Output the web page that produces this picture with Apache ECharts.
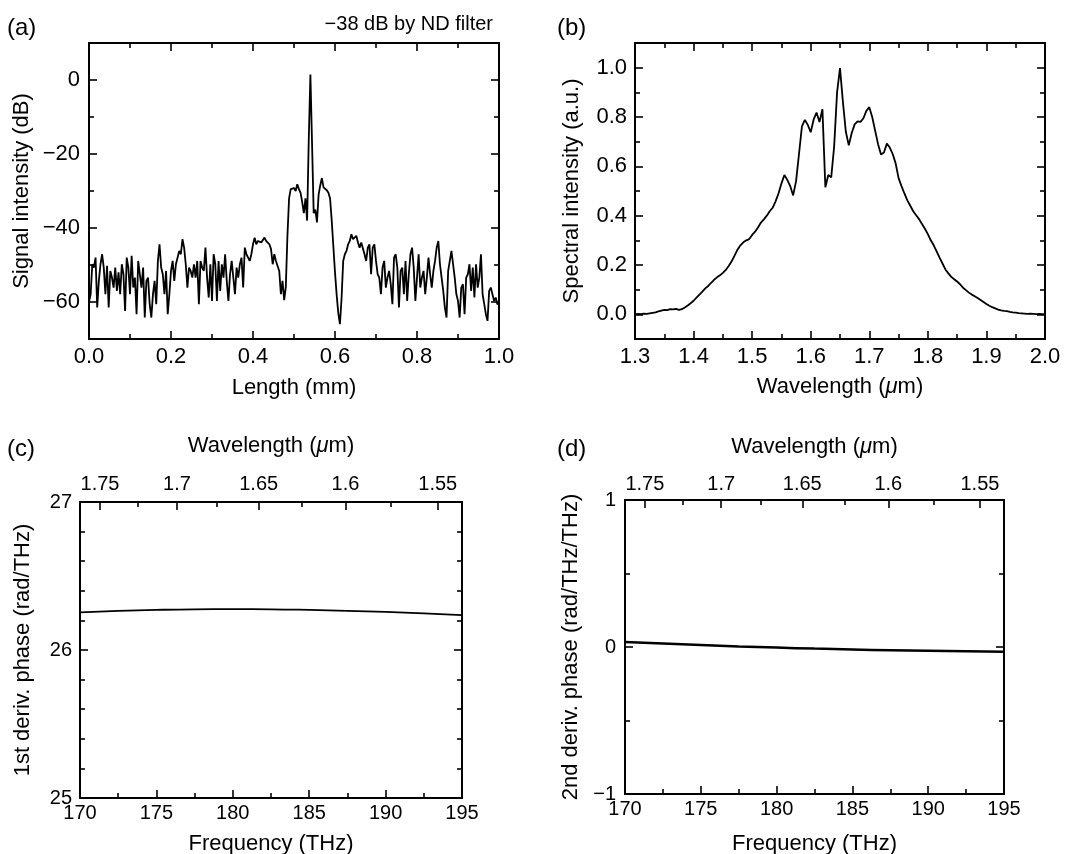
<!DOCTYPE html>
<html>
<head>
<meta charset="utf-8">
<title>Signal, spectrum and phase derivatives</title>
<script src="https://cdn.jsdelivr.net/npm/echarts@6/dist/echarts.min.js"></script>
<style>
  html, body { margin: 0; padding: 0; background: #fff; }
  #chart { width: 1078px; height: 854px; }
</style>
</head>
<body>
<div id="chart"></div>
<script>
// (a) signal intensity vs length, one sample every 0.004 mm starting at 0
const lengthStep = 0.004;
const signalDb = [
  -60.0, -57.9, -49.8, -50.7, -48.0, -61.5, -54.3, -49.8, -47.1, -50.7,
  -57.9, -50.2, -61.5, -51.6, -53.4, -56.1, -50.7, -57.0, -52.0, -57.9,
  -49.8, -52.5, -62.4, -48.0, -50.7, -57.9, -47.5, -56.1, -53.4, -63.3,
  -48.9, -52.5, -56.1, -50.7, -64.2, -54.3, -53.4, -60.6, -64.2, -57.9,
  -54.3, -60.6, -48.9, -44.4, -50.7, -52.5, -57.9, -51.6, -63.3, -57.9,
  -51.6, -48.9, -54.3, -49.8, -48.0, -46.2, -47.1, -43.0, -45.3, -49.8,
  -56.1, -50.7, -51.6, -53.4, -49.8, -53.4, -48.9, -60.6, -48.9, -50.7,
  -51.6, -45.3, -53.4, -58.8, -49.8, -59.7, -47.1, -49.8, -59.7, -48.9,
  -57.0, -49.8, -53.4, -47.1, -54.3, -59.7, -52.5, -48.9, -53.4, -57.9,
  -50.7, -53.4, -49.8, -48.0, -56.1, -45.3, -47.1, -48.0, -48.9, -47.1,
  -44.4, -42.6, -44.4, -43.5, -43.0, -43.9, -43.5, -42.6, -43.5, -43.0,
  -44.4, -45.7, -49.8, -47.1, -48.9, -48.4, -51.6, -57.9, -54.3, -59.5,
  -56.0, -42.0, -32.0, -29.5, -29.8, -29.2, -30.0, -28.2, -29.5, -30.5,
  -33.0, -36.0, -32.0, -38.0, -16.0, 1.5, -17.0, -36.0, -35.0, -38.5,
  -31.0, -28.5, -26.5, -29.0, -29.5, -29.8, -30.5, -32.0, -38.0, -45.0,
  -52.0, -58.0, -63.0, -66.0, -59.0, -48.9, -47.1, -46.2, -44.4, -43.5,
  -41.7, -43.0, -43.5, -42.1, -43.9, -45.3, -43.9, -43.5, -47.1, -48.9,
  -45.3, -44.4, -52.5, -45.3, -44.4, -48.9, -52.5, -53.4, -57.9, -50.7,
  -48.9, -56.1, -53.4, -51.6, -55.2, -60.6, -48.0, -47.1, -50.7, -61.5,
  -51.6, -50.7, -57.9, -48.9, -59.7, -52.5, -47.1, -45.3, -50.7, -59.7,
  -53.4, -47.1, -56.1, -53.4, -51.6, -57.9, -53.4, -48.0, -52.5, -56.1,
  -51.6, -48.9, -45.3, -43.5, -49.8, -53.4, -57.0, -61.5, -64.2, -51.6,
  -48.9, -46.2, -49.8, -53.4, -57.9, -59.7, -64.2, -56.1, -55.2, -63.3,
  -53.4, -52.5, -49.8, -57.0, -50.7, -58.8, -49.8, -56.1, -53.4, -47.1,
  -57.9, -60.6, -63.3, -65.1, -57.0, -56.1, -57.9, -59.7, -58.8, -60.6,
  -60.2
];

// (b) spectral intensity, one sample every 0.005 um starting at 1.3 um
const waveStart = 1.3;
const waveStep = 0.005;
const spectrum = [
  0.000, 0.002, 0.001, 0.003, 0.002, 0.004, 0.006, 0.008, 0.012, 0.015,
  0.018, 0.017, 0.021, 0.020, 0.022, 0.018, 0.021, 0.028, 0.036, 0.045,
  0.055, 0.068, 0.080, 0.092, 0.105, 0.115, 0.128, 0.140, 0.150, 0.158,
  0.168, 0.180, 0.196, 0.215, 0.238, 0.262, 0.280, 0.292, 0.300, 0.305,
  0.322, 0.335, 0.352, 0.372, 0.385, 0.400, 0.418, 0.432, 0.458, 0.490,
  0.530, 0.565, 0.545, 0.520, 0.482, 0.540, 0.650, 0.762, 0.788, 0.768,
  0.738, 0.790, 0.818, 0.780, 0.832, 0.515, 0.565, 0.555, 0.680, 0.900,
  0.998, 0.860, 0.740, 0.685, 0.735, 0.770, 0.782, 0.780, 0.795, 0.825,
  0.840, 0.800, 0.745, 0.690, 0.648, 0.656, 0.692, 0.676, 0.650, 0.612,
  0.552, 0.520, 0.490, 0.462, 0.440, 0.418, 0.402, 0.386, 0.366, 0.347,
  0.325, 0.300, 0.280, 0.255, 0.230, 0.206, 0.182, 0.166, 0.152, 0.142,
  0.133, 0.122, 0.108, 0.098, 0.088, 0.080, 0.073, 0.066, 0.058, 0.050,
  0.042, 0.035, 0.029, 0.024, 0.019, 0.016, 0.014, 0.013, 0.010, 0.008,
  0.007, 0.005, 0.004, 0.003, 0.002, 0.003, 0.002, 0.001, 0.002, 0.001,
  0.001
];

// (c), (d) phase derivatives vs frequency
const freqTHz = [170, 172.5, 175, 177.5, 180, 182.5, 185, 187.5, 190, 192.5, 195];
const phase1 = [26.254, 26.264, 26.271, 26.275, 26.276, 26.275, 26.271, 26.265, 26.257, 26.247, 26.236];
const phase2 = [0.034, 0.024, 0.014, 0.004, -0.004, -0.011, -0.017, -0.022, -0.026, -0.029, -0.032];

// tick values
const lengthTicks = [0, 0.2, 0.4, 0.6, 0.8, 1.0];
const lengthMinor = [0.1, 0.3, 0.5, 0.7, 0.9];
const dbTicks = [-60, -40, -20, 0];
const dbMinor = [-50, -30, -10];
const waveTicks = [1.3, 1.4, 1.5, 1.6, 1.7, 1.8, 1.9, 2.0];
const waveMinor = [1.35, 1.45, 1.55, 1.65, 1.75, 1.85, 1.95];
const intensityTicks = [0, 0.2, 0.4, 0.6, 0.8, 1.0];
const intensityMinor = [0.1, 0.3, 0.5, 0.7, 0.9];
const freqTicks = [170, 175, 180, 185, 190, 195];
const freqMinor = [172.5, 177.5, 182.5, 187.5, 192.5];
const phase1Ticks = [25, 26, 27];
const phase1Minor = [25.2, 25.4, 25.6, 25.8, 26.2, 26.4, 26.6, 26.8];
const phase2Ticks = [-1, 0, 1];
const phase2Minor = [-0.5, 0.5];
const topWaveTicks = [1.75, 1.7, 1.65, 1.6, 1.55];
const topWaveMinor = [1.725, 1.675, 1.625, 1.575];

const C_UM_THZ = 299.792458; // wavelength [um] = c / frequency [THz]
const INK = '#000';
const FONT = "'Liberation Sans', Arial, sans-serif";

const signed = v => (v < 0 ? '\u2212' + Math.abs(v) : String(v));
const oneDec = v => v.toFixed(1);

let grids = [], xAxes = [], yAxes = [], series = [];

// one side of the frame: line (optional) and inward ticks at given values
function edge(gridIndex, position, range, ticks, len, line) {
  return {
    type: 'value', gridIndex, position, min: range[0], max: range[1],
    axisLine: { show: line, onZero: false, lineStyle: { color: INK, width: 2 } },
    axisTick: { show: true, inside: true, length: len, customValues: ticks, lineStyle: { color: INK, width: 1.6 } },
    axisLabel: { show: false },
    splitLine: { show: false }
  };
}

function label(axis, values, formatter, fontSize, margin) {
  axis.axisLabel = {
    show: true, customValues: values, formatter, margin, fontSize,
    fontFamily: FONT, color: INK, showMinLabel: true, showMaxLabel: true
  };
}

function title(axis, name, gap) {
  axis.name = name;
  axis.nameLocation = 'middle';
  axis.nameGap = gap;
  axis.nameTextStyle = {
    color: INK, fontSize: 22, fontFamily: FONT,
    rich: { i: { fontStyle: 'italic', fontSize: 22, fontFamily: FONT, color: INK } }
  };
}

function addPanel(p) {
  const g = grids.length;
  grids.push(Object.assign({ outerBoundsMode: 'none' }, p.box));

  const xMain = edge(g, 'bottom', p.x, p.xTicks, 8, true);
  label(xMain, p.xTicks, p.xFmt, p.font, p.xMargin);
  title(xMain, p.xName, p.xGap);
  const xi = xAxes.push(xMain) - 1;
  xAxes.push(edge(g, 'bottom', p.x, p.xMinor, 5, false));

  if (p.waveTop) {
    const major = topWaveTicks.map(l => C_UM_THZ / l);
    const top = edge(g, 'top', p.x, major, 8, true);
    label(top, major, v => String(+(C_UM_THZ / v).toFixed(3)), p.font, p.waveMargin);
    title(top, 'Wavelength ({i|\u03bc}m)', p.waveGap);
    xAxes.push(top);
    xAxes.push(edge(g, 'top', p.x, topWaveMinor.map(l => C_UM_THZ / l), 5, false));
  } else {
    xAxes.push(edge(g, 'top', p.x, p.xTicks, 8, true));
    xAxes.push(edge(g, 'top', p.x, p.xMinor, 5, false));
  }

  const yMain = edge(g, 'left', p.y, p.yTicks, 8, true);
  label(yMain, p.yTicks, p.yFmt, p.font, p.yMargin);
  title(yMain, p.yName, p.yGap);
  const yi = yAxes.push(yMain) - 1;
  yAxes.push(edge(g, 'left', p.y, p.yMinor, 5, false));
  yAxes.push(edge(g, 'right', p.y, p.yTicks, 8, true));
  yAxes.push(edge(g, 'right', p.y, p.yMinor, 5, false));

  series.push({
    type: 'line', xAxisIndex: xi, yAxisIndex: yi, data: p.data,
    showSymbol: false, smooth: !!p.smooth, silent: true,
    lineStyle: { color: INK, width: p.lineWidth }
  });
}

addPanel({
  box: { left: 89, top: 43, width: 410, height: 296 },
  x: [0, 1], xTicks: lengthTicks, xMinor: lengthMinor, xFmt: oneDec,
  y: [-70, 10], yTicks: dbTicks, yMinor: dbMinor, yFmt: signed,
  font: 22, xMargin: 7, yMargin: 9,
  xName: 'Length (mm)', xGap: 38, yName: 'Signal intensity (dB)', yGap: 56,
  data: signalDb.map((v, i) => [+(i * lengthStep).toFixed(3), v]), lineWidth: 1.8
});

addPanel({
  box: { left: 635, top: 43, width: 410, height: 296 },
  x: [1.3, 2.0], xTicks: waveTicks, xMinor: waveMinor, xFmt: oneDec,
  y: [-0.1, 1.1], yTicks: intensityTicks, yMinor: intensityMinor, yFmt: oneDec,
  font: 22, xMargin: 7, yMargin: 8,
  xName: 'Wavelength ({i|\u03bc}m)', xGap: 37, yName: 'Spectral intensity (a.u.)', yGap: 52,
  data: spectrum.map((v, i) => [+(waveStart + i * waveStep).toFixed(3), v]), lineWidth: 1.8
});

addPanel({
  box: { left: 80, top: 502, width: 382, height: 296 },
  x: [170, 195], xTicks: freqTicks, xMinor: freqMinor, xFmt: String,
  y: [25, 27], yTicks: phase1Ticks, yMinor: phase1Minor, yFmt: String,
  font: 20, xMargin: 5, yMargin: 8, waveTop: true, waveMargin: 8, waveGap: 45,
  xName: 'Frequency (THz)', xGap: 35, yName: '1st deriv. phase (rad/THz)', yGap: 46,
  data: freqTHz.map((f, i) => [f, phase1[i]]), smooth: true, lineWidth: 1.8
});

addPanel({
  box: { left: 625, top: 500, width: 379, height: 294 },
  x: [170, 195], xTicks: freqTicks, xMinor: freqMinor, xFmt: String,
  y: [-1, 1], yTicks: phase2Ticks, yMinor: phase2Minor, yFmt: signed,
  font: 20, xMargin: 5, yMargin: 9, waveTop: true, waveMargin: 6, waveGap: 42,
  xName: 'Frequency (THz)', xGap: 39, yName: '2nd deriv. phase (rad/THz/THz)', yGap: 43,
  data: freqTHz.map((f, i) => [f, phase2[i]]), smooth: true, lineWidth: 2.5
});

function tag(text, pos, size) {
  return Object.assign({ type: 'text', silent: true,
    style: { text, fontSize: size, fontFamily: FONT, fill: INK } }, pos);
}

const chart = echarts.init(document.getElementById('chart'));
chart.setOption({
  animation: false,
  backgroundColor: '#fff',
  grid: grids,
  xAxis: xAxes,
  yAxis: yAxes,
  series: series,
  graphic: [
    tag('(a)', { left: 7, top: 16 }, 24),
    tag('(b)', { left: 557, top: 16 }, 24),
    tag('(c)', { left: 7, top: 437 }, 24),
    tag('(d)', { left: 557, top: 437 }, 24),
    tag('\u221238 dB by ND filter', { right: 585, top: 14 }, 20)
  ]
});
</script>
</body>
</html>
